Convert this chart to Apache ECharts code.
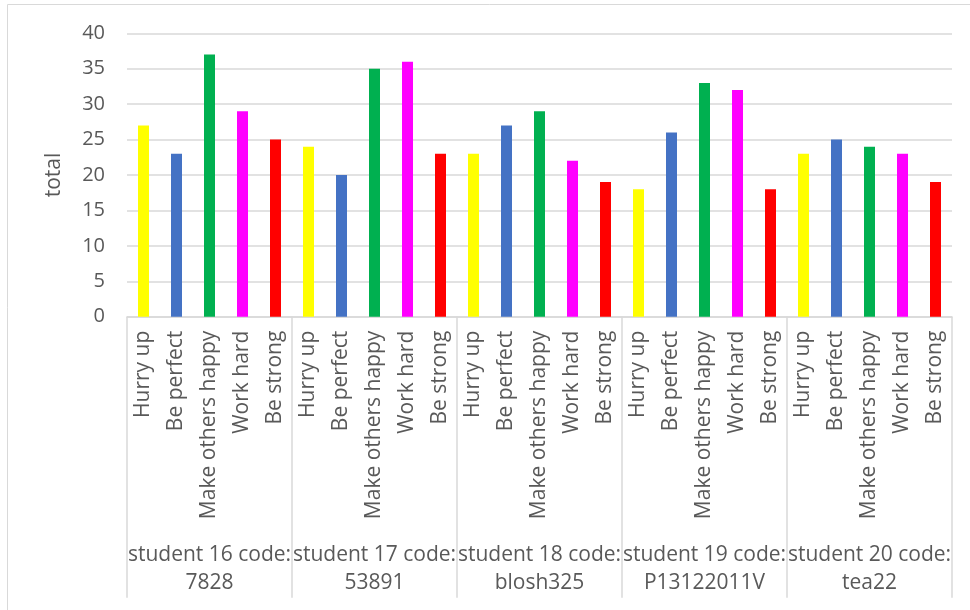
<!DOCTYPE html>
<html>
<head>
<meta charset="utf-8">
<script src="https://cdn.jsdelivr.net/npm/echarts@6/dist/echarts.min.js"></script>
<style>
  html, body { margin: 0; padding: 0; background: #fff; }
  #chart { width: 970px; height: 610px; }
</style>
</head>
<body>
<div id="chart"></div>
<script>
// Students (outer axis level) and drivers (inner axis level)
const students = [
  'student 16 code:\n7828',
  'student 17 code:\n53891',
  'student 18 code:\nblosh325',
  'student 19 code:\nP13122011V',
  'student 20 code:\ntea22'
];
const drivers = ['Hurry up', 'Be perfect', 'Make others happy', 'Work hard', 'Be strong'];
const driverColors = ['#FFFF00', '#4472C4', '#00B050', '#FF00FF', '#FF0000'];

// Totals per student, in driver order
const student16 = [27, 23, 37, 29, 25];
const student17 = [24, 20, 35, 36, 23];
const student18 = [23, 27, 29, 22, 19];
const student19 = [18, 26, 33, 32, 18];
const student20 = [23, 25, 24, 23, 19];
const totals = [student16, student17, student18, student19, student20];

const yTicks = { min: 0, max: 40, interval: 5 };

// Flatten into one category per (student, driver) pair
const innerCats = [];
const barData = [];
totals.forEach((row) => {
  row.forEach((v, j) => {
    innerCats.push(drivers[j]);
    barData.push({ value: v, itemStyle: { color: driverColors[j] } });
  });
});

const FONT = '"Open Sans", Lato, sans-serif';
const TXT = '#595959';
const GRID = '#d9d9d9';

const chart = echarts.init(document.getElementById('chart'), null, { renderer: 'canvas' });
chart.setOption({
  animation: false,
  textStyle: { fontFamily: FONT },
  grid: { left: 127, right: 18, top: 33.3, bottom: 293.3, containLabel: false },
  graphic: [{
    type: 'rect',
    shape: { x: 7.5, y: 4.5, width: 1000, height: 700 },
    style: { fill: 'none', stroke: GRID, lineWidth: 1 },
    silent: true, z: -10
  }],
  xAxis: [
    {
      type: 'category',
      data: innerCats,
      position: 'bottom',
      axisLine: { lineStyle: { color: GRID, width: 1.5 } },
      axisTick: { show: false },
      axisLabel: {
        interval: 0, rotate: 90, margin: 14,
        color: TXT, fontSize: 21, fontFamily: FONT
      }
    },
    {
      type: 'category',
      data: students,
      position: 'bottom',
      axisLine: { show: false },
      axisTick: { show: true, interval: 0, length: 281, lineStyle: { color: GRID, width: 1.5 } },
      axisLabel: {
        interval: 0, margin: 224, lineHeight: 28,
        color: TXT, fontSize: 21, fontFamily: FONT, align: 'center'
      }
    }
  ],
  yAxis: {
    type: 'value',
    min: yTicks.min, max: yTicks.max, interval: yTicks.interval,
    name: 'total', nameLocation: 'middle', nameRotate: 90, nameGap: 62,
    nameTextStyle: { color: TXT, fontSize: 21, fontFamily: FONT },
    axisLine: { show: false },
    axisTick: { show: false },
    axisLabel: { color: TXT, fontSize: 20, margin: 22, fontFamily: FONT },
    splitLine: { lineStyle: { color: GRID, width: 1.5 } }
  },
  series: [{
    type: 'bar',
    xAxisIndex: 0,
    data: barData,
    barWidth: 11
  }]
});
</script>
</body>
</html>
